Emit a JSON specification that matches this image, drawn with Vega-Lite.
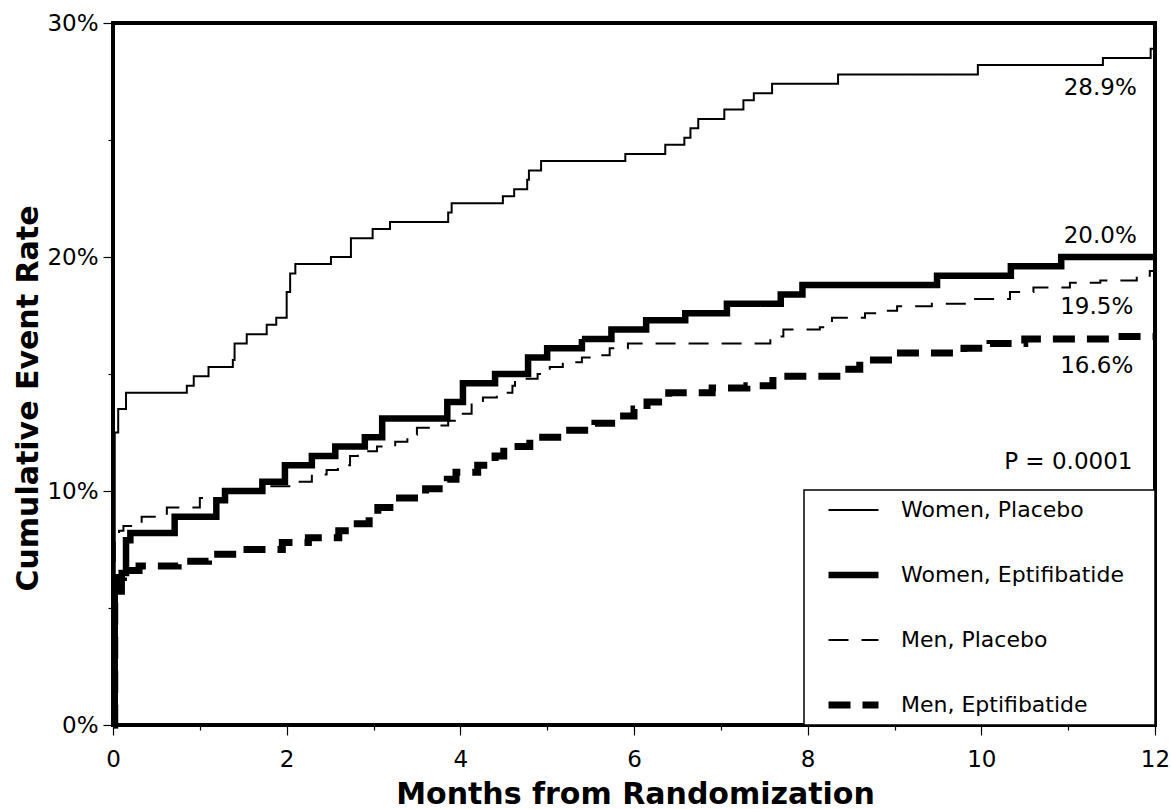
{
  "$schema": "https://vega.github.io/schema/vega-lite/v6.json",
  "autosize": {"type": "none"},
  "padding": {"left": 113, "top": 23, "right": 16, "bottom": 84},
  "width": 1042,
  "height": 702,
  "background": "white",
  "config": {
    "view": {"stroke": "black", "strokeWidth": 4},
    "axis": {
      "domain": false,
      "grid": false,
      "tickColor": "black",
      "tickWidth": 1.2,
      "labelColor": "black",
      "labelFont": "DejaVu Sans",
      "labelFontSize": 23,
      "titleFont": "DejaVu Sans",
      "titleFontWeight": "bold",
      "titleFontSize": 30,
      "titleColor": "black"
    },
    "legend": {
      "orient": "none",
      "legendX": 691,
      "legendY": 467,
      "direction": "vertical",
      "strokeColor": "black",
      "strokeWidth": 1.5,
      "fillColor": "white",
      "padding": 8,
      "symbolType": "stroke",
      "symbolSize": 2500,
      "symbolStrokeColor": "black",
      "clipHeight": 24,
      "rowPadding": 41,
      "symbolOffset": 13,
      "labelOffset": 19,
      "labelFont": "DejaVu Sans",
      "labelFontSize": 22,
      "labelColor": "black",
      "labelLimit": 400,
      "titleOrient": "right",
      "titlePadding": 23,
      "titleFontSize": 22
    }
  },
  "datasets": {
    "curves": [
      {"series": "Women, Placebo", "month": 0, "rate": 0},
      {"series": "Women, Placebo", "month": 0.02, "rate": 12.5},
      {"series": "Women, Placebo", "month": 0.06, "rate": 13.5},
      {"series": "Women, Placebo", "month": 0.15, "rate": 14.2},
      {"series": "Women, Placebo", "month": 0.85, "rate": 14.5},
      {"series": "Women, Placebo", "month": 0.93, "rate": 14.9},
      {"series": "Women, Placebo", "month": 1.1, "rate": 15.3},
      {"series": "Women, Placebo", "month": 1.38, "rate": 15.6},
      {"series": "Women, Placebo", "month": 1.4, "rate": 16.3},
      {"series": "Women, Placebo", "month": 1.54, "rate": 16.7},
      {"series": "Women, Placebo", "month": 1.77, "rate": 17.1},
      {"series": "Women, Placebo", "month": 1.88, "rate": 17.4},
      {"series": "Women, Placebo", "month": 2.0, "rate": 18.5},
      {"series": "Women, Placebo", "month": 2.04, "rate": 19.3},
      {"series": "Women, Placebo", "month": 2.1, "rate": 19.7},
      {"series": "Women, Placebo", "month": 2.51, "rate": 20.0},
      {"series": "Women, Placebo", "month": 2.74, "rate": 20.8},
      {"series": "Women, Placebo", "month": 2.99, "rate": 21.2},
      {"series": "Women, Placebo", "month": 3.19, "rate": 21.5},
      {"series": "Women, Placebo", "month": 3.86, "rate": 21.9},
      {"series": "Women, Placebo", "month": 3.9, "rate": 22.3},
      {"series": "Women, Placebo", "month": 4.49, "rate": 22.6},
      {"series": "Women, Placebo", "month": 4.62, "rate": 22.9},
      {"series": "Women, Placebo", "month": 4.77, "rate": 23.3},
      {"series": "Women, Placebo", "month": 4.79, "rate": 23.7},
      {"series": "Women, Placebo", "month": 4.93, "rate": 24.1},
      {"series": "Women, Placebo", "month": 5.9, "rate": 24.4},
      {"series": "Women, Placebo", "month": 6.36, "rate": 24.8},
      {"series": "Women, Placebo", "month": 6.58, "rate": 25.1},
      {"series": "Women, Placebo", "month": 6.65, "rate": 25.5},
      {"series": "Women, Placebo", "month": 6.74, "rate": 25.9},
      {"series": "Women, Placebo", "month": 7.04, "rate": 26.3},
      {"series": "Women, Placebo", "month": 7.26, "rate": 26.7},
      {"series": "Women, Placebo", "month": 7.38, "rate": 27.0},
      {"series": "Women, Placebo", "month": 7.59, "rate": 27.4},
      {"series": "Women, Placebo", "month": 8.35, "rate": 27.8},
      {"series": "Women, Placebo", "month": 9.96, "rate": 28.2},
      {"series": "Women, Placebo", "month": 11.4, "rate": 28.5},
      {"series": "Women, Placebo", "month": 11.95, "rate": 28.9},
      {"series": "Women, Placebo", "month": 12, "rate": 28.9},

      {"series": "Women, Eptifibatide", "month": 0, "rate": 0},
      {"series": "Women, Eptifibatide", "month": 0.02, "rate": 5.7},
      {"series": "Women, Eptifibatide", "month": 0.1, "rate": 6.5},
      {"series": "Women, Eptifibatide", "month": 0.15, "rate": 7.9},
      {"series": "Women, Eptifibatide", "month": 0.2, "rate": 8.2},
      {"series": "Women, Eptifibatide", "month": 0.71, "rate": 8.9},
      {"series": "Women, Eptifibatide", "month": 1.19, "rate": 9.6},
      {"series": "Women, Eptifibatide", "month": 1.29, "rate": 10.0},
      {"series": "Women, Eptifibatide", "month": 1.72, "rate": 10.4},
      {"series": "Women, Eptifibatide", "month": 1.98, "rate": 11.1},
      {"series": "Women, Eptifibatide", "month": 2.29, "rate": 11.5},
      {"series": "Women, Eptifibatide", "month": 2.56, "rate": 11.9},
      {"series": "Women, Eptifibatide", "month": 2.9, "rate": 12.3},
      {"series": "Women, Eptifibatide", "month": 3.1, "rate": 13.1},
      {"series": "Women, Eptifibatide", "month": 3.85, "rate": 13.8},
      {"series": "Women, Eptifibatide", "month": 4.03, "rate": 14.6},
      {"series": "Women, Eptifibatide", "month": 4.4, "rate": 15.0},
      {"series": "Women, Eptifibatide", "month": 4.78, "rate": 15.7},
      {"series": "Women, Eptifibatide", "month": 5.0, "rate": 16.1},
      {"series": "Women, Eptifibatide", "month": 5.4, "rate": 16.5},
      {"series": "Women, Eptifibatide", "month": 5.74, "rate": 16.9},
      {"series": "Women, Eptifibatide", "month": 6.14, "rate": 17.3},
      {"series": "Women, Eptifibatide", "month": 6.59, "rate": 17.6},
      {"series": "Women, Eptifibatide", "month": 7.07, "rate": 18.0},
      {"series": "Women, Eptifibatide", "month": 7.69, "rate": 18.4},
      {"series": "Women, Eptifibatide", "month": 7.94, "rate": 18.8},
      {"series": "Women, Eptifibatide", "month": 9.49, "rate": 19.2},
      {"series": "Women, Eptifibatide", "month": 10.34, "rate": 19.6},
      {"series": "Women, Eptifibatide", "month": 10.92, "rate": 20.0},
      {"series": "Women, Eptifibatide", "month": 12, "rate": 20.0},

      {"series": "Men, Placebo", "month": 0, "rate": 0},
      {"series": "Men, Placebo", "month": 0.02, "rate": 8.0},
      {"series": "Men, Placebo", "month": 0.07, "rate": 8.3},
      {"series": "Men, Placebo", "month": 0.12, "rate": 8.5},
      {"series": "Men, Placebo", "month": 0.33, "rate": 8.9},
      {"series": "Men, Placebo", "month": 0.62, "rate": 9.3},
      {"series": "Men, Placebo", "month": 1.0, "rate": 9.7},
      {"series": "Men, Placebo", "month": 1.3, "rate": 10.0},
      {"series": "Men, Placebo", "month": 1.7, "rate": 10.2},
      {"series": "Men, Placebo", "month": 2.13, "rate": 10.4},
      {"series": "Men, Placebo", "month": 2.29, "rate": 10.7},
      {"series": "Men, Placebo", "month": 2.46, "rate": 10.9},
      {"series": "Men, Placebo", "month": 2.59, "rate": 11.1},
      {"series": "Men, Placebo", "month": 2.73, "rate": 11.5},
      {"series": "Men, Placebo", "month": 2.82, "rate": 11.7},
      {"series": "Men, Placebo", "month": 3.04, "rate": 11.9},
      {"series": "Men, Placebo", "month": 3.25, "rate": 12.1},
      {"series": "Men, Placebo", "month": 3.39, "rate": 12.4},
      {"series": "Men, Placebo", "month": 3.5, "rate": 12.7},
      {"series": "Men, Placebo", "month": 3.71, "rate": 12.8},
      {"series": "Men, Placebo", "month": 3.86, "rate": 13.0},
      {"series": "Men, Placebo", "month": 4.0, "rate": 13.3},
      {"series": "Men, Placebo", "month": 4.13, "rate": 13.8},
      {"series": "Men, Placebo", "month": 4.26, "rate": 14.0},
      {"series": "Men, Placebo", "month": 4.42, "rate": 14.2},
      {"series": "Men, Placebo", "month": 4.6, "rate": 14.5},
      {"series": "Men, Placebo", "month": 4.63, "rate": 14.8},
      {"series": "Men, Placebo", "month": 4.89, "rate": 15.0},
      {"series": "Men, Placebo", "month": 5.03, "rate": 15.3},
      {"series": "Men, Placebo", "month": 5.18, "rate": 15.5},
      {"series": "Men, Placebo", "month": 5.4, "rate": 15.7},
      {"series": "Men, Placebo", "month": 5.59, "rate": 15.8},
      {"series": "Men, Placebo", "month": 5.72, "rate": 16.1},
      {"series": "Men, Placebo", "month": 5.93, "rate": 16.3},
      {"series": "Men, Placebo", "month": 7.57, "rate": 16.6},
      {"series": "Men, Placebo", "month": 7.72, "rate": 16.9},
      {"series": "Men, Placebo", "month": 8.14, "rate": 17.0},
      {"series": "Men, Placebo", "month": 8.28, "rate": 17.4},
      {"series": "Men, Placebo", "month": 8.66, "rate": 17.6},
      {"series": "Men, Placebo", "month": 8.83, "rate": 17.7},
      {"series": "Men, Placebo", "month": 9.03, "rate": 17.9},
      {"series": "Men, Placebo", "month": 9.43, "rate": 18.0},
      {"series": "Men, Placebo", "month": 9.84, "rate": 18.2},
      {"series": "Men, Placebo", "month": 10.33, "rate": 18.5},
      {"series": "Men, Placebo", "month": 10.6, "rate": 18.7},
      {"series": "Men, Placebo", "month": 11.02, "rate": 18.9},
      {"series": "Men, Placebo", "month": 11.37, "rate": 19.0},
      {"series": "Men, Placebo", "month": 11.79, "rate": 19.2},
      {"series": "Men, Placebo", "month": 11.94, "rate": 19.4},
      {"series": "Men, Placebo", "month": 12, "rate": 19.5},

      {"series": "Men, Eptifibatide", "month": 0, "rate": 0},
      {"series": "Men, Eptifibatide", "month": 0.02, "rate": 5.8},
      {"series": "Men, Eptifibatide", "month": 0.06, "rate": 6.3},
      {"series": "Men, Eptifibatide", "month": 0.12, "rate": 6.6},
      {"series": "Men, Eptifibatide", "month": 0.3, "rate": 6.8},
      {"series": "Men, Eptifibatide", "month": 0.75, "rate": 7.0},
      {"series": "Men, Eptifibatide", "month": 1.1, "rate": 7.3},
      {"series": "Men, Eptifibatide", "month": 1.5, "rate": 7.5},
      {"series": "Men, Eptifibatide", "month": 1.95, "rate": 7.8},
      {"series": "Men, Eptifibatide", "month": 2.25, "rate": 8.0},
      {"series": "Men, Eptifibatide", "month": 2.6, "rate": 8.3},
      {"series": "Men, Eptifibatide", "month": 2.75, "rate": 8.6},
      {"series": "Men, Eptifibatide", "month": 2.95, "rate": 9.0},
      {"series": "Men, Eptifibatide", "month": 3.05, "rate": 9.3},
      {"series": "Men, Eptifibatide", "month": 3.3, "rate": 9.7},
      {"series": "Men, Eptifibatide", "month": 3.6, "rate": 10.1},
      {"series": "Men, Eptifibatide", "month": 3.85, "rate": 10.5},
      {"series": "Men, Eptifibatide", "month": 3.95, "rate": 10.8},
      {"series": "Men, Eptifibatide", "month": 4.2, "rate": 11.1},
      {"series": "Men, Eptifibatide", "month": 4.4, "rate": 11.5},
      {"series": "Men, Eptifibatide", "month": 4.5, "rate": 11.9},
      {"series": "Men, Eptifibatide", "month": 4.8, "rate": 12.3},
      {"series": "Men, Eptifibatide", "month": 5.2, "rate": 12.6},
      {"series": "Men, Eptifibatide", "month": 5.55, "rate": 12.9},
      {"series": "Men, Eptifibatide", "month": 5.8, "rate": 13.2},
      {"series": "Men, Eptifibatide", "month": 6.0, "rate": 13.5},
      {"series": "Men, Eptifibatide", "month": 6.15, "rate": 13.8},
      {"series": "Men, Eptifibatide", "month": 6.4, "rate": 14.2},
      {"series": "Men, Eptifibatide", "month": 6.9, "rate": 14.4},
      {"series": "Men, Eptifibatide", "month": 7.3, "rate": 14.5},
      {"series": "Men, Eptifibatide", "month": 7.6, "rate": 14.9},
      {"series": "Men, Eptifibatide", "month": 8.4, "rate": 15.2},
      {"series": "Men, Eptifibatide", "month": 8.6, "rate": 15.6},
      {"series": "Men, Eptifibatide", "month": 9.0, "rate": 15.9},
      {"series": "Men, Eptifibatide", "month": 9.8, "rate": 16.1},
      {"series": "Men, Eptifibatide", "month": 10.1, "rate": 16.3},
      {"series": "Men, Eptifibatide", "month": 10.5, "rate": 16.5},
      {"series": "Men, Eptifibatide", "month": 11.5, "rate": 16.6},
      {"series": "Men, Eptifibatide", "month": 12, "rate": 16.6}
    ],
    "notes": [
      {"month": 11.79, "rate": 27.22, "label": "28.9%"},
      {"month": 11.79, "rate": 20.9, "label": "20.0%"},
      {"month": 11.75, "rate": 17.86, "label": "19.5%"},
      {"month": 11.75, "rate": 15.34, "label": "16.6%"},
      {"month": 11.74, "rate": 11.24, "label": "P = 0.0001"}
    ]
  },
  "layer": [
    {
      "data": {"name": "curves"},
      "mark": {"type": "line", "interpolate": "step-after", "color": "black", "strokeCap": "butt", "strokeJoin": "miter"},
      "encoding": {
        "x": {
          "field": "month", "type": "quantitative",
          "scale": {"domain": [0, 12], "nice": false},
          "axis": {
            "values": [0, 2, 4, 6, 8, 10, 12],
            "tickSize": 10,
            "labelPadding": 13,
            "labelFlush": false,
            "title": "Months from Randomization",
            "titleX": 522,
            "titleY": 78,
            "titleAlign": "center",
            "titleBaseline": "alphabetic"
          }
        },
        "y": {
          "field": "rate", "type": "quantitative",
          "scale": {"domain": [0, 30], "nice": false},
          "axis": {
            "values": [0, 10, 20, 30],
            "labelExpr": "datum.value + '%'",
            "tickSize": 10,
            "labelPadding": 5,
            "title": "Cumulative Event Rate",
            "titleX": -76,
            "titleY": 375,
            "titleAngle": -90,
            "titleAlign": "center",
            "titleBaseline": "alphabetic"
          }
        },
        "strokeDash": {
          "field": "series", "type": "nominal",
          "scale": {
            "type": "ordinal",
            "domain": ["Women, Placebo", "Women, Eptifibatide", "Men, Placebo", "Men, Eptifibatide"],
            "range": [[1, 0], [1, 0], [20, 13], [22, 12]]
          },
          "legend": {"title": " "}
        },
        "strokeWidth": {
          "field": "series", "type": "nominal",
          "scale": {
            "type": "ordinal",
            "domain": ["Women, Placebo", "Women, Eptifibatide", "Men, Placebo", "Men, Eptifibatide"],
            "range": [2, 6.5, 2, 7]
          },
          "legend": {"title": " "}
        }
      }
    },
    {
      "data": {"name": "notes"},
      "mark": {"type": "text", "align": "right", "baseline": "middle", "font": "DejaVu Sans", "fontSize": 23, "color": "black"},
      "encoding": {
        "x": {
          "field": "month", "type": "quantitative",
          "axis": {"values": [1, 3, 5, 7, 9, 11], "labels": false, "tickSize": 5, "title": null, "orient": "bottom"}
        },
        "y": {
          "field": "rate", "type": "quantitative",
          "axis": {"values": [5, 15, 25], "labels": false, "tickSize": 5, "title": null, "orient": "left"}
        },
        "text": {"field": "label"}
      }
    }
  ],
  "resolve": {"axis": {"x": "independent", "y": "independent"}}
}
